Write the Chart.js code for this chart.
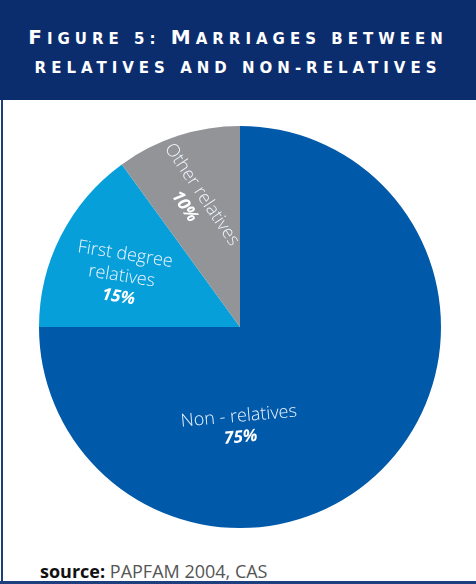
<!DOCTYPE html>
<html>
<head>
<meta charset="utf-8">
<script src="https://cdn.jsdelivr.net/npm/chart.js@4"></script>
<style>
  html, body { margin: 0; padding: 0; background: #fff; }
  .frame { position: relative; width: 476px; height: 584px; overflow: hidden; }
  .banner { position: absolute; left: 0; top: 0; width: 476px; height: 100px; background: #0b2d6e; }
  .banner div { position: absolute; left: 0; width: 476px; text-align: center; color: #fff; white-space: nowrap;
    font-family: "DejaVu Sans", sans-serif; font-weight: bold; letter-spacing: 5px; }
  .banner .big { font-size: 20px; }
  .banner .sm { font-size: 15px; }
  .t1 { top: 25px; }
  .t2 { top: 58px; }
  .edge-left { position: absolute; left: 1px; top: 100px; width: 2px; height: 484px; background: #1d3f7e; }
  .edge-bottom { position: absolute; left: 0; top: 581px; width: 476px; height: 3px; background: #1d3f7e; }
  .source { position: absolute; left: 40px; top: 559px; font-family: "Open Sans", sans-serif; font-size: 18px; color: #555; }
  .source b { color: #111; }
  canvas { position: absolute; left: 0; top: 0; }
</style>
</head>
<body>
<div class="frame">
  <div class="banner">
    <div class="t1" data-text="Figure 5: Marriages between"></div>
    <div class="t2" data-text="relatives and non-relatives"></div>
  </div>
  <div class="edge-left"></div>
  <div class="edge-bottom"></div>
  <div class="source"><b>source:</b> PAPFAM 2004, CAS</div>
  <canvas id="pie" width="476" height="584"></canvas>
</div>
<script>
const categories = ["Non - relatives", "First degree relatives", "Other relatives"];
const shares = [75, 15, 10];
const colors = ["#0059a9", "#079fda", "#929497"];

// where each label sits inside its slice: t = fraction along the arc, f = fraction of radius, rot = text angle (deg)
const labelSpots = [
  { lines: ["Non - relatives"], t: 0.667, f: 0.5, rot: -5 },
  { lines: ["First degree", "relatives"], t: 0.43, f: 0.64, rot: 9 },
  { lines: ["Other relatives"], t: 0.43, f: 0.67, rot: 56 }
];

// fake small caps: real capitals big, the rest uppercased small
document.querySelectorAll(".banner div").forEach(el => {
  const txt = el.dataset.text;
  let html = "";
  for (const ch of txt) {
    if (ch !== ch.toLowerCase()) html += '<span class="big">' + ch + '</span>';
    else html += '<span class="sm">' + ch.toUpperCase() + '</span>';
  }
  el.innerHTML = html;
});

const sliceLabels = {
  id: "sliceLabels",
  afterDatasetsDraw(chart) {
    const ctx = chart.ctx;
    const arcs = chart.getDatasetMeta(0).data;
    arcs.forEach((arc, i) => {
      const p = arc.getProps(["x", "y", "startAngle", "endAngle", "outerRadius"], true);
      const spot = labelSpots[i];
      const a = p.startAngle + spot.t * (p.endAngle - p.startAngle);
      const r = p.outerRadius * spot.f;
      const cx = p.x + Math.cos(a) * r;
      const cy = p.y + Math.sin(a) * r;
      ctx.save();
      ctx.translate(cx, cy);
      ctx.rotate(spot.rot * Math.PI / 180);
      ctx.textAlign = "center";
      ctx.textBaseline = "middle";
      ctx.fillStyle = "#eef5ff";
      ctx.font = "300 18px 'Open Sans', sans-serif";
      const n = spot.lines.length;
      const lh = 22;
      const top = -((n) * lh) / 2;
      spot.lines.forEach((ln, k) => {
        ctx.fillText(ln, 0, top + k * lh);
      });
      ctx.fillStyle = "#ffffff";
      ctx.font = "italic bold 17px 'Open Sans', sans-serif";
      ctx.fillText(shares[i] + "%", 0, top + n * lh - 1);
      ctx.restore();
    });
  }
};

new Chart(document.getElementById("pie"), {
  type: "pie",
  data: {
    labels: categories,
    datasets: [{
      data: shares,
      backgroundColor: colors,
      borderWidth: 0
    }]
  },
  options: {
    responsive: false,
    animation: false,
    layout: { padding: { left: 39, right: 35, top: 126, bottom: 56 } },
    plugins: {
      legend: { display: false },
      tooltip: { enabled: false }
    }
  },
  plugins: [sliceLabels]
});
</script>
</body>
</html>
